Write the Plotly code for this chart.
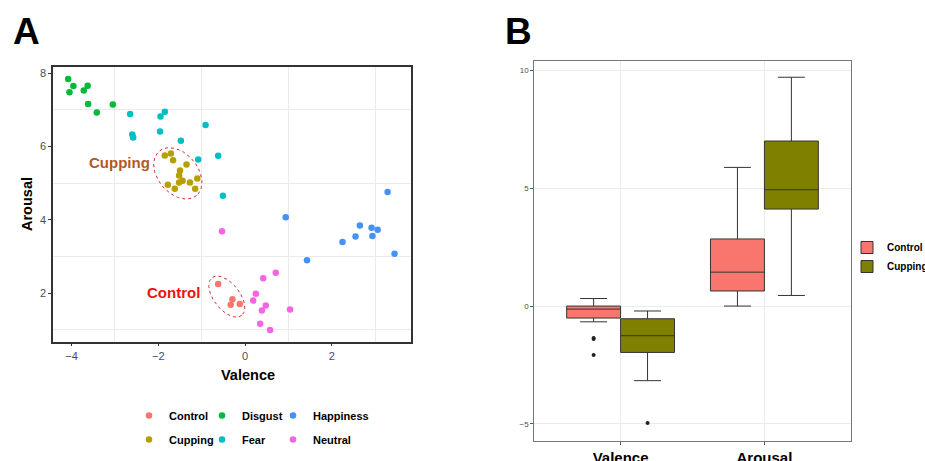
import numpy as np
import plotly.graph_objects as go

# ---------------- Panel A data (Valence / Arousal) ----------------
control_valence = [-0.62, -0.29, -0.33, -0.12]
control_arousal = [2.25, 1.84, 1.69, 1.71]

cupping_valence = [-1.85, -1.71, -1.66, -1.35, -1.50, -1.52, -1.44, -1.52, -1.10, -1.27, -1.78, -1.62, -1.15]
cupping_arousal = [5.76, 5.81, 5.63, 5.51, 5.35, 5.21, 5.07, 5.02, 5.13, 5.02, 4.96, 4.85, 4.85]

disgust_valence = [-4.08, -3.96, -4.05, -3.72, -3.63, -3.62, -3.42, -3.05]
disgust_arousal = [7.84, 7.65, 7.48, 7.53, 7.66, 7.16, 6.93, 7.15]

fear_valence = [-2.65, -2.60, -2.58, -1.95, -1.85, -1.96, -1.48, -0.91, -1.08, -0.62, -0.51]
fear_arousal = [6.89, 6.33, 6.25, 6.82, 6.95, 6.41, 6.16, 6.59, 5.65, 5.75, 4.66]

happiness_valence = [0.94, 3.29, 2.65, 2.92, 3.06, 2.55, 2.94, 2.25, 3.45, 1.43]
happiness_arousal = [4.07, 4.76, 3.85, 3.79, 3.73, 3.55, 3.56, 3.40, 3.08, 2.90]

neutral_valence = [-0.53, 0.71, 0.42, 0.25, 0.19, 0.48, 0.39, 1.04, 0.35, 0.58]
neutral_arousal = [3.69, 2.56, 2.41, 1.99, 1.80, 1.67, 1.53, 1.56, 1.17, 1.00]

a_xticks = [-4, -2, 0, 2]
a_yticks = [2, 4, 6, 8]

# ---------------- Panel B data (box statistics) ----------------
box_categories = ["Valence", "Arousal"]
control_q1 = [-0.51, 0.64]
control_median = [-0.13, 1.44]
control_q3 = [0.00, 2.85]
control_lower = [-0.67, 0.00]
control_upper = [0.32, 5.89]
control_outliers_valence = [-1.36, -1.40, -2.08]

cupping_q1 = [-1.97, 4.12]
cupping_median = [-1.26, 4.94]
cupping_q3 = [-0.54, 7.01]
cupping_lower = [-3.17, 0.45]
cupping_upper = [-0.21, 9.72]
cupping_outliers_valence = [-4.97]

b_yticks = [-5, 0, 5, 10]

# ---------------- styling ----------------
FONT = "Liberation Sans, Arial, sans-serif"
C_CONTROL = "#F8766D"
C_CUPPING = "#B79F00"
C_DISGUST = "#00BA38"
C_FEAR = "#00BFC4"
C_HAPPY = "#4592F5"
C_NEUTRAL = "#F564E3"
BOX_CUP = "#808000"

W, H = 925, 461
# pixel layout of panels
A_L, A_R, A_T, A_B = 53, 411, 67, 341.7
B_L, B_R, B_T, B_B = 534.3, 850.7, 61, 440.7
A_XR = [-4.43, 3.83]
A_YR = [0.68, 8.17]

fig = go.Figure()

# legend columns like ggplot's 2-row legend (column-wise fill)
groups = [
    ("Control", control_valence, control_arousal, C_CONTROL, "legend"),
    ("Cupping", cupping_valence, cupping_arousal, C_CUPPING, "legend"),
    ("Disgust", disgust_valence, disgust_arousal, C_DISGUST, "legend2"),
    ("Fear", fear_valence, fear_arousal, C_FEAR, "legend2"),
    ("Happiness", happiness_valence, happiness_arousal, C_HAPPY, "legend3"),
    ("Neutral", neutral_valence, neutral_arousal, C_NEUTRAL, "legend3"),
]
for name, xv, yv, col, lg in groups:
    fig.add_trace(go.Scatter(x=xv, y=yv, mode="markers", name=name, legendgroup=name,
                             marker=dict(color=col, size=6.5),
                             xaxis="x", yaxis="y", legend=lg))

# dotted ellipses (annotation shapes), defined in pixel space then mapped to data
sx = (A_R - A_L) / (A_XR[1] - A_XR[0])
sy = (A_B - A_T) / (A_YR[1] - A_YR[0])
t = np.linspace(0, 2 * np.pi, 120)


def ellipse(cx, cy, a, b, deg):
    p = np.deg2rad(deg)
    dx = a * np.cos(t) * np.cos(p) - b * np.sin(t) * np.sin(p)
    dy = a * np.cos(t) * np.sin(p) + b * np.sin(t) * np.cos(p)
    return cx + dx / sx, cy - dy / sy


for cx, cy, a, b, deg in [(-1.55, 5.27, 29, 20, 50), (-0.42, 1.91, 24, 13, 52)]:
    ex, ey = ellipse(cx, cy, a, b, deg)
    fig.add_trace(go.Scatter(x=ex, y=ey, mode="lines", showlegend=False,
                             hoverinfo="skip",
                             line=dict(color="#D42A2A", width=1, dash="dot"),
                             xaxis="x", yaxis="y"))

# ---------------- Panel B boxes ----------------
pos = np.arange(len(box_categories))
half = 0.1875
fig.add_trace(go.Box(x=list(pos - half), q1=control_q1, median=control_median, q3=control_q3,
                     lowerfence=control_lower, upperfence=control_upper,
                     width=0.375, whiskerwidth=0.5, boxpoints=False, name="Control",
                     fillcolor=C_CONTROL, line=dict(color="#333333", width=1),
                     xaxis="x2", yaxis="y2", legend="legend4"))
fig.add_trace(go.Box(x=list(pos + half), q1=cupping_q1, median=cupping_median, q3=cupping_q3,
                     lowerfence=cupping_lower, upperfence=cupping_upper,
                     width=0.375, whiskerwidth=0.5, boxpoints=False, name="Cupping",
                     fillcolor=BOX_CUP, line=dict(color="#333333", width=1),
                     xaxis="x2", yaxis="y2", legend="legend4"))
fig.add_trace(go.Scatter(x=[pos[0] - half] * len(control_outliers_valence), y=control_outliers_valence,
                         mode="markers", marker=dict(color="#222222", size=4),
                         showlegend=False, xaxis="x2", yaxis="y2"))
fig.add_trace(go.Scatter(x=[pos[0] + half] * len(cupping_outliers_valence), y=cupping_outliers_valence,
                         mode="markers", marker=dict(color="#222222", size=4),
                         showlegend=False, xaxis="x2", yaxis="y2"))

grid = "#EBEBEB"
tickfont_a = dict(family=FONT, size=11, color="#4D4D4D")
leg_font = dict(family=FONT, size=11, color="black", weight="bold")


def col_legend(xpx):
    return dict(orientation="v", xref="container", yref="container",
                x=xpx / W, xanchor="left", y=1 - 427.5 / H, yanchor="middle",
                tracegroupgap=5, bgcolor="rgba(0,0,0,0)", font=leg_font)


fig.update_layout(
    width=W, height=H, margin=dict(l=0, r=0, t=0, b=0, autoexpand=False),
    paper_bgcolor="white", plot_bgcolor="white",
    font=dict(family=FONT),
    xaxis=dict(domain=[A_L / W, A_R / W], range=A_XR, tickvals=a_xticks, automargin=False,
               showgrid=False, zeroline=False, ticks="outside", ticklen=3,
               tickcolor="#333333", tickfont=tickfont_a,
               minor=dict(tickvals=[-3, -1, 1, 3], showgrid=True, gridcolor=grid, gridwidth=1, ticks=""),
               showline=True, mirror=True, linecolor="#333333", linewidth=1.5, anchor="y"),
    yaxis=dict(domain=[1 - A_B / H, 1 - A_T / H], range=A_YR, tickvals=a_yticks, automargin=False,
               showgrid=False, zeroline=False, ticks="outside", ticklen=3,
               tickcolor="#333333", tickfont=tickfont_a,
               minor=dict(tickvals=[1, 3, 5, 7], showgrid=True, gridcolor=grid, gridwidth=1, ticks=""),
               showline=True, mirror=True, linecolor="#333333", linewidth=1.5, anchor="x"),
    xaxis2=dict(domain=[B_L / W, B_R / W], range=[-0.6, 1.6], tickvals=list(pos), automargin=False,
                ticktext=box_categories, showgrid=True, gridcolor=grid, zeroline=False,
                ticks="outside", ticklen=3, tickcolor="#555555",
                tickfont=dict(family=FONT, size=15, color="black", weight="bold"),
                showline=True, mirror=True, linecolor="#777777", linewidth=1, anchor="y2"),
    yaxis2=dict(domain=[1 - B_B / H, 1 - B_T / H], range=[-5.72, 10.41], tickvals=b_yticks,
                automargin=False, showgrid=True, gridcolor=grid, zeroline=False,
                ticks="outside", ticklen=3, tickcolor="#555555",
                tickfont=dict(family=FONT, size=8, color="#4D4D4D"),
                showline=True, mirror=True, linecolor="#777777", linewidth=1, anchor="x2"),
    legend=col_legend(129),
    legend2=col_legend(202),
    legend3=col_legend(273),
    legend4=dict(orientation="v", xref="container", yref="container",
                 x=847 / W, xanchor="left", y=1 - 257 / H, yanchor="middle",
                 bgcolor="rgba(0,0,0,0)", tracegroupgap=0,
                 font=dict(family=FONT, size=10, color="black", weight="bold")),
    annotations=[
        dict(text="A", x=26 / W, y=1 - 32 / H, xref="paper", yref="paper", showarrow=False,
             xanchor="center", yanchor="middle",
             font=dict(family=FONT, size=37, color="black", weight="bold")),
        dict(text="B", x=518 / W, y=1 - 32 / H, xref="paper", yref="paper", showarrow=False,
             xanchor="center", yanchor="middle",
             font=dict(family=FONT, size=37, color="black", weight="bold")),
        dict(text="Valence", x=248 / W, y=1 - 375 / H, xref="paper", yref="paper", showarrow=False,
             xanchor="center", yanchor="middle",
             font=dict(family=FONT, size=14.5, color="black", weight="bold")),
        dict(text="Arousal", x=27 / W, y=1 - 204 / H, xref="paper", yref="paper", showarrow=False,
             xanchor="center", yanchor="middle",
             textangle=-90, font=dict(family=FONT, size=14.5, color="black", weight="bold")),
        dict(text="Cupping", x=-2.15, y=5.56, xref="x", yref="y", xanchor="right", yanchor="middle",
             showarrow=False, font=dict(family=FONT, size=15, color="#B4581E", weight="bold")),
        dict(text="Control", x=-0.985, y=2.02, xref="x", yref="y", xanchor="right", yanchor="middle",
             showarrow=False, font=dict(family=FONT, size=15, color="#EE1111", weight="bold")),
    ],
)

fig.write_html("out.html", config={"displayModeBar": False},
               post_script="document.body.style.margin='0px';")
